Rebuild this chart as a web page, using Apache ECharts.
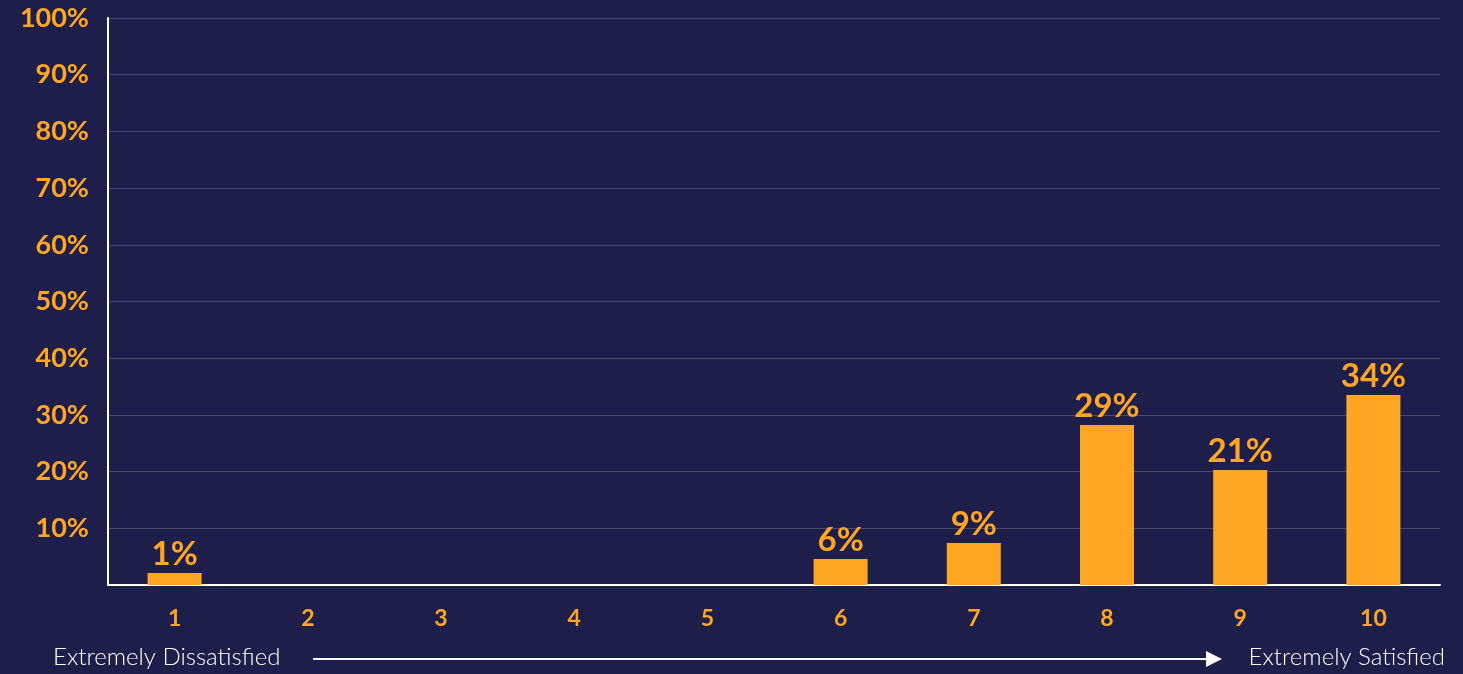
<!DOCTYPE html>
<html>
<head>
<meta charset="utf-8">
<script src="https://cdn.jsdelivr.net/npm/echarts@6/dist/echarts.min.js"></script>
<style>
  html, body { margin: 0; padding: 0; background: #1e1e4b; }
  #chart { width: 1463px; height: 674px; }
</style>
</head>
<body>
<div id="chart"></div>
<script>
// satisfaction scores 1..10
const categories = ['1', '2', '3', '4', '5', '6', '7', '8', '9', '10'];
// bar heights as drawn (percent)
const values = [2.1, 0, 0, 0, 0, 4.6, 7.4, 28.2, 20.3, 33.5];
// labels printed above the bars
const barLabels = ['1%', '', '', '', '', '6%', '9%', '29%', '21%', '34%'];
const scaleLeft = 'Extremely Dissatisfied';
const scaleRight = 'Extremely Satisfied';

const orange = '#ffa723';
const font = 'Lato, "Open Sans", sans-serif';

let chart = echarts.init(document.getElementById('chart'));
chart.setOption({
  backgroundColor: '#1e1e4b',
  textStyle: { fontFamily: font },
  grid: { left: 108, right: 23, top: 18, bottom: 89 },
  xAxis: {
    type: 'category',
    data: categories,
    axisLine: { lineStyle: { color: '#ffffff', width: 2 } },
    axisTick: { show: false },
    axisLabel: {
      color: orange,
      fontSize: 23,
      fontWeight: 'bold',
      margin: 22
    }
  },
  yAxis: {
    type: 'value',
    min: 0,
    max: 100,
    interval: 10,
    axisLine: { show: true, lineStyle: { color: '#ffffff', width: 2 } },
    axisTick: { show: false },
    splitLine: { lineStyle: { color: 'rgba(255,255,255,0.2)', width: 1 } },
    axisLabel: {
      color: orange,
      fontSize: 27,
      fontWeight: 'bold',
      margin: 19,
      formatter: v => (v === 0 ? '' : v + '%')
    }
  },
  series: [
    {
      type: 'bar',
      data: values,
      barWidth: 54,
      itemStyle: { color: orange },
      label: {
        show: true,
        position: 'top',
        distance: 2,
        color: orange,
        fontSize: 33,
        fontWeight: 'bold',
        formatter: p => barLabels[p.dataIndex]
      }
    }
  ],
  graphic: [
    {
      type: 'text',
      left: 53,
      top: 645,
      style: { text: scaleLeft, fill: '#ffffff', font: '300 24px ' + font }
    },
    {
      type: 'text',
      right: 18,
      top: 645,
      style: { text: scaleRight, fill: '#ffffff', font: '300 24px ' + font }
    },
    {
      type: 'line',
      shape: { x1: 313, y1: 659, x2: 1208, y2: 659 },
      style: { stroke: '#ffffff', lineWidth: 2 }
    },
    {
      type: 'polygon',
      shape: { points: [[1206, 651], [1222, 659], [1206, 667]] },
      style: { fill: '#ffffff' }
    }
  ]
});
</script>
</body>
</html>
